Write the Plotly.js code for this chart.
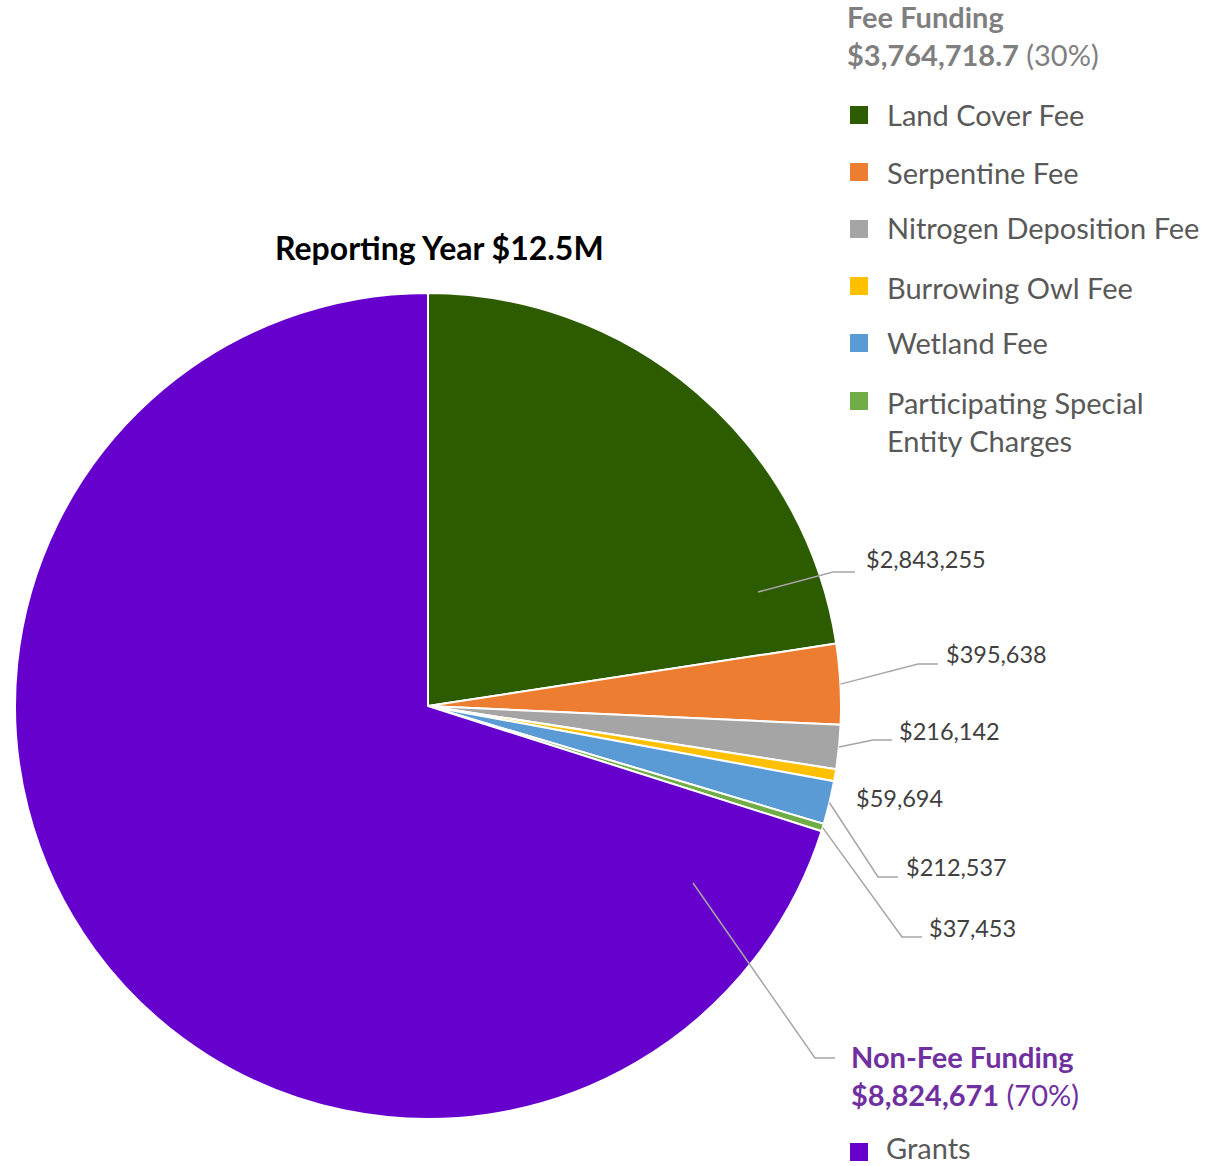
<!DOCTYPE html>
<html>
<head>
<meta charset="utf-8">
<script src="https://cdn.plot.ly/plotly-3.0.1.min.js"></script>
<style>html,body{margin:0;padding:0;background:#fff}#chart{width:1224px;height:1166px}</style>
</head>
<body>
<div id="chart"></div>
<script>
// ---- data ----
const labels = ["Land Cover Fee","Serpentine Fee","Nitrogen Deposition Fee","Burrowing Owl Fee","Wetland Fee","Participating Special Entity Charges","Grants"];
const values = [2843255, 395638, 216142, 59694, 212537, 37453, 8824671];
const colors = ["#2D5C00","#ED7D31","#A5A5A5","#FFC000","#5B9BD5","#70AD47","#6600CC"];
const legendText = ["Land Cover Fee","Serpentine Fee","Nitrogen Deposition Fee","Burrowing Owl Fee","Wetland Fee","Participating Special<br>Entity Charges","Grants"];
const feeIdx = [0,1,2,3,4,5];
const grantIdx = [6];
const chartTitle = "Reporting Year $12.5M";
const feeHeader = "Fee Funding";
const feeTotalText = "$3,764,718.7";
const nonFeeHeader = "Non-Fee Funding";
const nonFeeTotalText = "$8,824,671";

// ---- layout helpers (pixel -> paper) ----
const W = 1224, H = 1166;
const px = x => x / W;
const py = y => 1 - y / H;
const CX = 428, CY = 706, R = 413;
const FONT = "Lato, 'Open Sans', sans-serif";

const total = values.reduce((a,b)=>a+b,0);
const feeSum = feeIdx.reduce((a,i)=>a+values[i],0);
const nonFeeSum = grantIdx.reduce((a,i)=>a+values[i],0);
const pct = v => Math.round(v/total*100) + "%";
const fmt = v => "$" + v.toLocaleString("en-US");

// midpoint angles (clockwise from 12 o'clock)
const mids = [];
let acc = 0;
values.forEach(v => { const a0 = acc/total*360; acc += v; const a1 = acc/total*360; mids.push((a0+a1)/2); });
const edgePt = (i, rf) => {
  const a = mids[i]*Math.PI/180;
  return [CX + R*rf*Math.sin(a), CY - R*rf*Math.cos(a)];
};

const trace = {
  type: "pie",
  labels: labels,
  values: values,
  sort: false,
  direction: "clockwise",
  rotation: 0,
  marker: {colors: colors, line: {color: "#ffffff", width: 2}},
  textinfo: "none",
  hoverinfo: "none",
  showlegend: false,
  domain: {x: [px(CX-R), px(CX+R)], y: [py(CY+R), py(CY-R)]}
};

// ---- data labels & leader lines ----
// [index, start point (null = slice edge midpoint), elbow, end, label x, label y]
const leaders = [
  [0, [758,592], [833,572], [855,572], 864, 559],
  [1, null, [918,664], [938,664], 944, 654],
  [2, null, [873,740], [892,740], 897, 731],
  [3, "none", null, null, 854, 798],
  [4, null, [878,877], [898,877], 904, 867],
  [5, null, [902,937], [922,937], 927, 928]
];
const shapes = [];
const annotations = [];
const lineStyle = {color: "#A6A6A6", width: 1.5};
const pathOf = pts => "M " + pts.map(p => px(p[0]) + "," + py(p[1])).join(" L ");
leaders.forEach(([i, st, el, en, lx, ly]) => {
  if (st !== "none") {
    const s = st || edgePt(i, 1.0);
    shapes.push({type: "path", xref: "paper", yref: "paper", path: pathOf([s, el, en]), line: lineStyle});
  }
  annotations.push({xref: "paper", yref: "paper", x: px(lx), y: py(ly), xanchor: "left", yanchor: "middle",
    text: fmt(values[i]), showarrow: false, font: {family: FONT, size: 23.5, color: "#404040"}});
});
// grants leader
shapes.push({type: "path", xref: "paper", yref: "paper", path: pathOf([[693,883],[815,1058],[835,1058]]), line: lineStyle});

// title
annotations.push({xref: "paper", yref: "paper", x: px(439), y: py(248), xanchor: "center", yanchor: "middle",
  text: "<b>" + chartTitle + "</b>", showarrow: false, font: {family: FONT, size: 32, color: "#000000"}});

// fee header
const HS = 29;
annotations.push({xref: "paper", yref: "paper", x: px(845), y: py(17), xanchor: "left", yanchor: "middle",
  text: "<b>" + feeHeader + "</b>", showarrow: false, font: {family: FONT, size: HS, color: "#7F7F7F"}});
annotations.push({xref: "paper", yref: "paper", x: px(845), y: py(55), xanchor: "left", yanchor: "middle",
  text: "<b>" + feeTotalText + "</b> (" + pct(feeSum) + ")", showarrow: false, font: {family: FONT, size: HS, color: "#7F7F7F"}});
// non-fee header
annotations.push({xref: "paper", yref: "paper", x: px(849), y: py(1056), xanchor: "left", yanchor: "middle",
  text: "<b>" + nonFeeHeader + "</b>", showarrow: false, font: {family: FONT, size: HS, color: "#7030A0"}});
annotations.push({xref: "paper", yref: "paper", x: px(849), y: py(1094), xanchor: "left", yanchor: "middle",
  text: "<b>" + nonFeeTotalText + "</b> (" + pct(nonFeeSum) + ")", showarrow: false, font: {family: FONT, size: HS, color: "#7030A0"}});

// custom legend: [index, square top y, text center y]
const legendRows = [[0,106,114],[1,163,172],[2,220,228],[3,277,287],[4,334,343],[5,392,421],[6,1143,null]];
legendRows.forEach(([i, sy, ty]) => {
  shapes.push({type: "rect", xref: "paper", yref: "paper", x0: px(850), x1: px(868), y0: py(sy+18), y1: py(sy),
    fillcolor: colors[i], line: {width: 0}});
  const ann = {xref: "paper", yref: "paper", x: px(885), xanchor: "left", align: "left",
    text: legendText[i], showarrow: false, font: {family: FONT, size: 29, color: "#595959"}};
  if (ty === null) { ann.y = 0; ann.yanchor = "bottom"; ann.borderpad = 0; }
  else { ann.y = py(ty); ann.yanchor = "middle"; }
  annotations.push(ann);
});

const layout = {
  width: W, height: H,
  margin: {l: 0, r: 0, t: 0, b: 0},
  paper_bgcolor: "#ffffff",
  plot_bgcolor: "#ffffff",
  showlegend: false,
  shapes: shapes,
  annotations: annotations
};
Plotly.newPlot("chart", [trace], layout, {displayModeBar: false, staticPlot: true});
</script>
</body>
</html>
